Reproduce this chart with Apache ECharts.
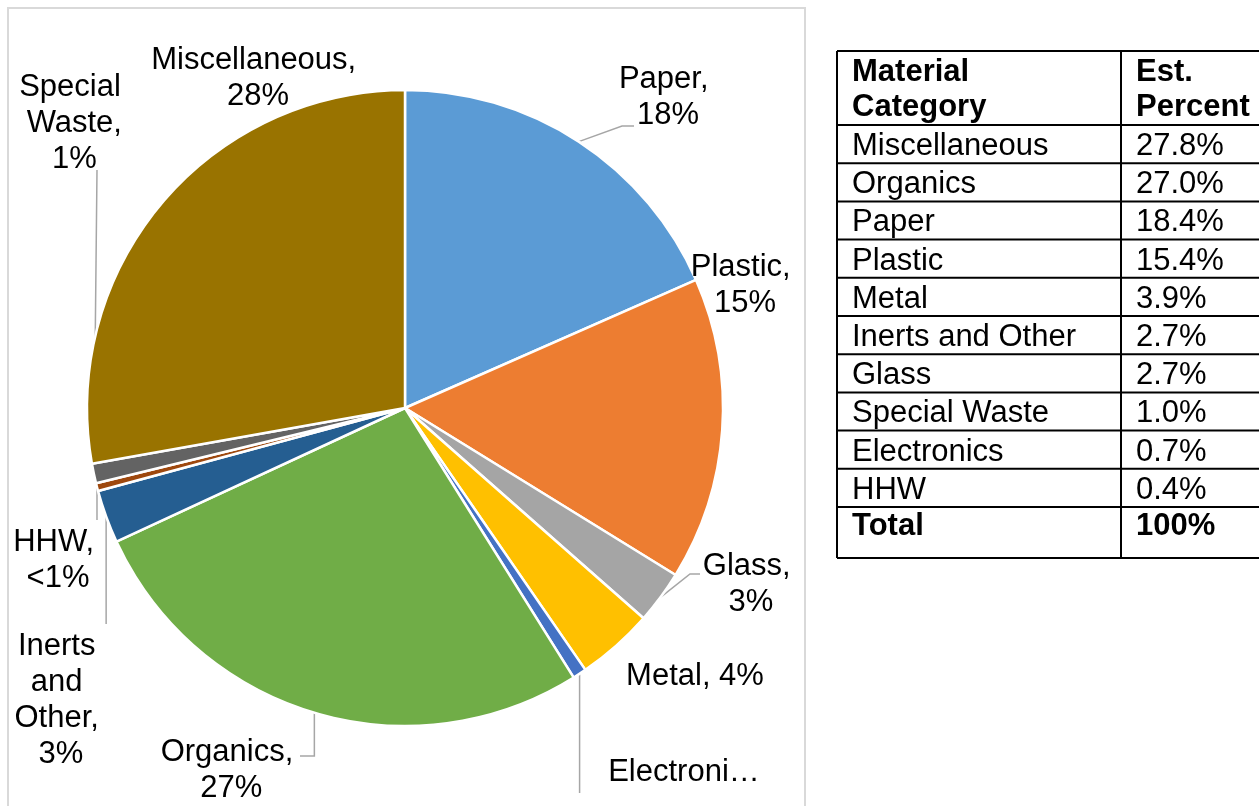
<!DOCTYPE html>
<html>
<head>
<meta charset="utf-8">
<title>Material Composition</title>
<script src="https://cdn.jsdelivr.net/npm/echarts@6/dist/echarts.min.js"></script>
<style>
  html, body { margin: 0; padding: 0; background: #fff; }
  #chart { width: 1259px; height: 806px; }
</style>
</head>
<body>
<div id="chart"></div>
<script>
// Slice order, clockwise from 12 o'clock
const categories = ['Paper', 'Plastic', 'Glass', 'Metal', 'Electronics', 'Organics',
  'Inerts and Other', 'HHW', 'Special Waste', 'Miscellaneous'];
const values = [18.4, 15.4, 2.7, 3.9, 0.7, 27.0, 2.7, 0.4, 1.0, 27.8];
const colors = ['#5B9BD5', '#ED7D31', '#A5A5A5', '#FFC000', '#4472C4', '#70AD47',
  '#255E91', '#9E480E', '#636363', '#997300'];

// Table rows, largest share first
const tableOrder = ['Miscellaneous', 'Organics', 'Paper', 'Plastic', 'Metal',
  'Inerts and Other', 'Glass', 'Special Waste', 'Electronics', 'HHW'];
const tableHeader = ['Material\nCategory', 'Est.\nPercent'];
const totalLabel = 'Total';

const FONT = '"Liberation Sans", Arial, Helvetica, sans-serif';
const FS = 31;

// Label placement: centre of each label, wrap width, and leader-line bends
// (offsets from the label centre; null x keeps the line vertical).
const labelSpots = {
  'Paper':            { x: 668, y: 97,  w: 110, line: [[-46, 29], [-34, 29]] },
  'Plastic':          { x: 745, y: 285, w: 110, line: null },
  'Glass':            { x: 751, y: 584, w: 100, line: [[-61, -10], [-51, -10]] },
  'Metal':            { x: 695, y: 676, w: 170, line: null },
  'Electronics':      { x: 684, y: 772, w: 155, truncate: true, line: [[null, 21]] },
  'Organics':         { x: 227, y: 770, w: 140, line: [[null, -14], [73, -14]] },
  'Inerts and Other': { x: 61,  y: 700, w: 100, line: [[null, -76]] },
  'HHW':              { x: 58,  y: 560, w: 100, line: [[null, -40]] },
  'Special Waste':    { x: 70,  y: 123, w: 110, line: [[27, 47]] },
  'Miscellaneous':    { x: 258, y: 78,  w: 230, line: null }
};

const pieData = categories.map((name, i) => {
  const s = labelSpots[name];
  return {
    name: name,
    value: values[i],
    itemStyle: { color: colors[i] },
    label: s.truncate
      ? { width: s.w, overflow: 'truncate', ellipsis: '…' }
      : { width: s.w, overflow: 'break' },
    labelLine: { show: !!s.line, showAbove: true }
  };
});

function pctText(v) {
  const r = Math.round(v);
  return (r < 1 ? '<1' : r) + '%';
}

// ---- table drawn with graphic elements ----
const tbl = {
  left: 837, right: 1262, divider: 1121,
  top: 51, headerH: 74, rowH: 38.2, totalH: 51,
  textX1: 852, textX2: 1136
};
const graphics = [];
// chart frame
graphics.push({
  type: 'rect', silent: true,
  shape: { x: 8, y: 8, width: 797, height: 840 },
  style: { fill: 'none', stroke: '#D9D9D9', lineWidth: 2 }
});

const rowTops = [];
let yy = tbl.top + tbl.headerH;
for (let i = 0; i < tableOrder.length; i++) { rowTops.push(yy); yy += tbl.rowH; }
const totalTop = yy;
const tableBottom = totalTop + tbl.totalH;

function hLine(y) {
  graphics.push({ type: 'line', silent: true,
    shape: { x1: tbl.left, y1: y, x2: tbl.right, y2: y },
    style: { stroke: '#000', lineWidth: 2 } });
}
function vLine(x) {
  graphics.push({ type: 'line', silent: true,
    shape: { x1: x, y1: tbl.top, x2: x, y2: tableBottom },
    style: { stroke: '#000', lineWidth: 2 } });
}
function cellText(txt, x, y, bold) {
  graphics.push({ type: 'text', silent: true, x: x, y: y,
    style: { text: txt, fill: '#000', fontSize: FS, fontFamily: FONT,
      fontWeight: bold ? 'bold' : 'normal', lineHeight: 35,
      verticalAlign: 'top', align: 'left' } });
}
hLine(tbl.top);
hLine(tbl.top + tbl.headerH);
rowTops.forEach((t, i) => hLine(t + tbl.rowH));
hLine(tableBottom);
vLine(tbl.left);
vLine(tbl.divider);
vLine(tbl.right);

cellText(tableHeader[0], tbl.textX1, tbl.top + 4, true);
cellText(tableHeader[1], tbl.textX2, tbl.top + 4, true);
tableOrder.forEach((name, i) => {
  const v = values[categories.indexOf(name)];
  cellText(name, tbl.textX1, rowTops[i] + 4, false);
  cellText(v.toFixed(1) + '%', tbl.textX2, rowTops[i] + 4, false);
});
const total = values.reduce((a, b) => a + b, 0);
cellText(totalLabel, tbl.textX1, totalTop + 2, true);
cellText(Math.round(total) + '%', tbl.textX2, totalTop + 2, true);

const chart = echarts.init(document.getElementById('chart'), null, { renderer: 'canvas' });
chart.setOption({
  animation: false,
  backgroundColor: '#fff',
  graphic: graphics,
  series: [{
    type: 'pie',
    center: [405, 408],
    radius: [0, 318],
    startAngle: 90,
    clockwise: true,
    avoidLabelOverlap: false,
    emphasis: { disabled: true },
    itemStyle: { borderColor: '#fff', borderWidth: 2.5 },
    label: {
      show: true,
      position: 'outside',
      color: '#000',
      fontSize: FS,
      fontFamily: FONT,
      lineHeight: 36,
      align: 'center',
      formatter: p => p.name + ', ' + pctText(p.value)
    },
    labelLine: {
      show: true,
      showAbove: true,
      length: 10, length2: 10,
      lineStyle: { color: '#A6A6A6', width: 1.5 }
    },
    labelLayout: function (params) {
      const s = labelSpots[categories[params.dataIndex]];
      const out = { x: s.x, y: s.y, align: 'center', verticalAlign: 'middle' };
      if (s.line && params.labelLinePoints) {
        const p0 = params.labelLinePoints[0];
        const pts = [[p0[0], p0[1]]];
        s.line.forEach(d => pts.push([d[0] == null ? p0[0] : s.x + d[0], s.y + d[1]]));
        if (pts.length === 2) {
          pts.splice(1, 0, [(pts[0][0] + pts[1][0]) / 2, (pts[0][1] + pts[1][1]) / 2]);
        }
        out.labelLinePoints = pts;
      }
      return out;
    },
    data: pieData
  }]
});
</script>
</body>
</html>
